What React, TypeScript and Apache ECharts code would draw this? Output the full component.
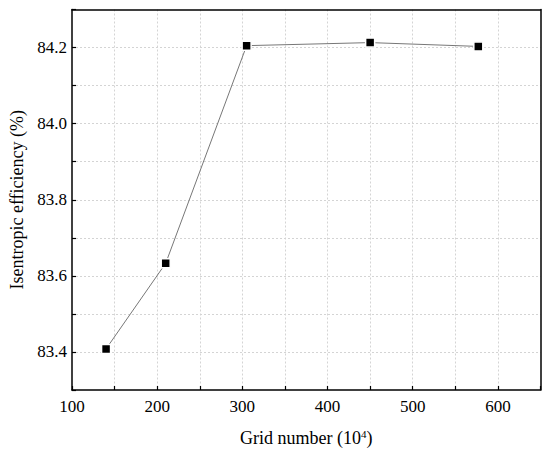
import React, { useEffect, useRef } from "react";
import * as echarts from "echarts";

const gridNumbers = [140, 210, 305, 450, 577];
const efficiency = [83.408, 83.633, 84.205, 84.213, 84.203];
const xLabels = [100, 200, 300, 400, 500, 600];
const yLabels = [83.4, 83.6, 83.8, 84.0, 84.2];

const FONT = "Liberation Serif";

export default function App() {
  const ref = useRef<HTMLDivElement>(null);
  useEffect(() => {
    if (!ref.current) return;
    const chart = echarts.init(ref.current, null, { renderer: "svg" });
    const gridLine = {
      show: true,
      showMinLine: false,
      showMaxLine: false,
      lineStyle: { color: "#d4d4d4", type: [2, 2] as any, width: 1 },
    };
    const frameAxisLine = { show: true, onZero: false, lineStyle: { color: "#000", width: 1.5 } };
    chart.setOption({
      animation: false,
      backgroundColor: "#fff",
      grid: {
        left: 66.5,
        top: 9.5,
        right: 9.5,
        bottom: 65,
      },
      xAxis: [
        {
          type: "value",
          min: 100,
          max: 650,
          interval: 50,
          name: "Grid number (10{sup|4})",
          nameLocation: "middle",
          nameGap: 38,
          nameTextStyle: {
            fontFamily: FONT,
            fontSize: 18,
            color: "#000",
            rich: { sup: { fontFamily: FONT, fontSize: 11, color: "#000", verticalAlign: "bottom", padding: [0, 0, 9, 0] } },
          },
          axisLine: frameAxisLine,
          axisTick: { show: true, inside: true, length: 4, lineStyle: { color: "#000", width: 1.2 } },
          axisLabel: {
            fontFamily: FONT,
            fontSize: 17,
            color: "#000",
            margin: 8,
            formatter: (v: number) => (xLabels.includes(v) ? String(v) : ""),
          },
          splitLine: gridLine,
        },
        {
          type: "value",
          position: "top",
          min: 100,
          max: 650,
          interval: 50,
          axisLine: frameAxisLine,
          axisTick: { show: false },
          axisLabel: { show: false },
          splitLine: { show: false },
        },
      ],
      yAxis: [
        {
          type: "value",
          min: 83.3,
          max: 84.3,
          interval: 0.1,
          name: "Isentropic efficiency (%)",
          nameLocation: "middle",
          nameGap: 46,
          nameTextStyle: { fontFamily: FONT, fontSize: 18, color: "#000" },
          axisLine: frameAxisLine,
          axisTick: { show: true, inside: true, length: 4, lineStyle: { color: "#000", width: 1.2 } },
          axisLabel: {
            fontFamily: FONT,
            fontSize: 17,
            color: "#000",
            margin: 5,
            formatter: (v: number) => {
              const r = Math.round(v * 10) / 10;
              return yLabels.some((l) => Math.abs(l - r) < 1e-6) ? r.toFixed(1) : "";
            },
          },
          splitLine: gridLine,
        },
        {
          type: "value",
          position: "right",
          min: 83.3,
          max: 84.3,
          interval: 0.1,
          axisLine: frameAxisLine,
          axisTick: { show: false },
          axisLabel: { show: false },
          splitLine: { show: false },
        },
      ],
      series: [
        {
          type: "line",
          xAxisIndex: 0,
          yAxisIndex: 0,
          data: gridNumbers.map((x, i) => [x, efficiency[i]]),
          symbol: "rect",
          symbolSize: 9,
          itemStyle: { color: "#000", borderColor: "#fff", borderWidth: 1.5 },
          lineStyle: { color: "#777", width: 1 },
          z: 5,
        },
      ],
    });
    return () => chart.dispose();
  }, []);
  return (
    <div
      ref={ref}
      style={{ position: "absolute", left: 0, top: 0, width: 550, height: 455 }}
    />
  );
}
